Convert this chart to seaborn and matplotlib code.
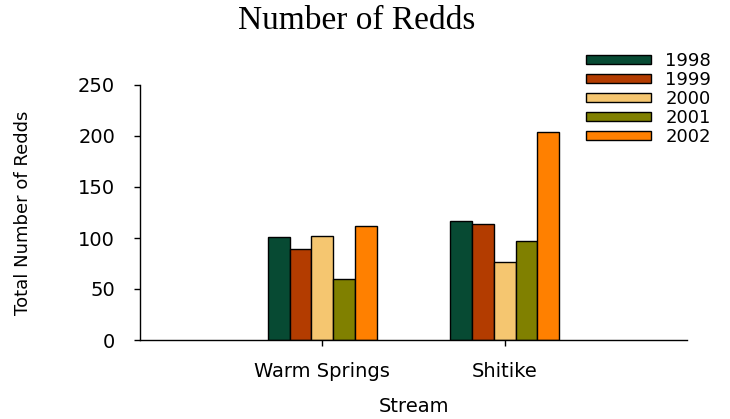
import matplotlib
matplotlib.use("Agg")
import matplotlib.pyplot as plt
import seaborn as sns
import pandas as pd
from matplotlib.patches import Patch

# data
streams = ["Warm Springs", "Shitike"]
years = ["1998", "1999", "2000", "2001", "2002"]
warm_springs = [101, 89, 102, 60, 112]
shitike = [117, 114, 76, 97, 204]
colors = ["#074a33", "#b33c00", "#f5c670", "#808000", "#ff8000"]

rows = []
for i, yr in enumerate(years):
    rows.append({"stream": streams[0], "year": yr, "redds": warm_springs[i]})
    rows.append({"stream": streams[1], "year": yr, "redds": shitike[i]})
df = pd.DataFrame(rows)

sns.set_style("white")
plt.rcParams['font.family'] = ['DejaVu Sans']
plt.rcParams['text.color'] = 'black'
plt.rcParams['axes.labelcolor'] = 'black'
plt.rcParams['xtick.color'] = 'black'
plt.rcParams['ytick.color'] = 'black'

fig = plt.figure(figsize=(7.3, 4.19), dpi=100)
ax = fig.add_axes([140 / 730, 1 - 340 / 419, 547 / 730, 255 / 419])

sns.barplot(data=df, x="stream", y="redds", hue="year", order=streams,
            hue_order=years, palette=colors, width=0.6, edgecolor="black",
            linewidth=1, saturation=1, legend=False, ax=ax)

ax.set_xlim(-1, 2)
ax.set_ylim(0, 250)
ax.set_yticks([0, 50, 100, 150, 200, 250])

for s in ["top", "right"]:
    ax.spines[s].set_visible(False)
for s in ["left", "bottom"]:
    ax.spines[s].set_color("black")
    ax.spines[s].set_linewidth(1)

ax.tick_params(axis="y", direction="out", length=4, width=1, colors="black",
               labelsize=14, pad=14, left=True)
ax.tick_params(axis="x", direction="out", length=4, width=1, colors="black",
               labelsize=14, pad=12, bottom=True)

ax.set_xlabel("Stream", fontsize=14, color="black")
ax.set_ylabel("Total Number of Redds", fontsize=13, color="black")
ax.xaxis.set_label_coords(0.5, -0.225)
ax.yaxis.set_label_coords(-0.197, 0.5)

fig.text(357 / 730, 1 - 21 / 419, "Number of Redds", family="Liberation Serif",
         fontsize=24, ha="center", va="center", color="black")

handles = [Patch(facecolor=c, edgecolor="black", linewidth=1) for c in colors]
leg = fig.legend(handles, years, loc="upper left", bbox_to_anchor=(586 / 730, 1 - 52 / 419),
                 frameon=False, fontsize=13, handlelength=3.6, handleheight=0.4,
                 handletextpad=0.8, labelspacing=0.05, borderpad=0, borderaxespad=0)
for t in leg.get_texts():
    t.set_color("black")

fig.savefig("out.png", dpi=100)
